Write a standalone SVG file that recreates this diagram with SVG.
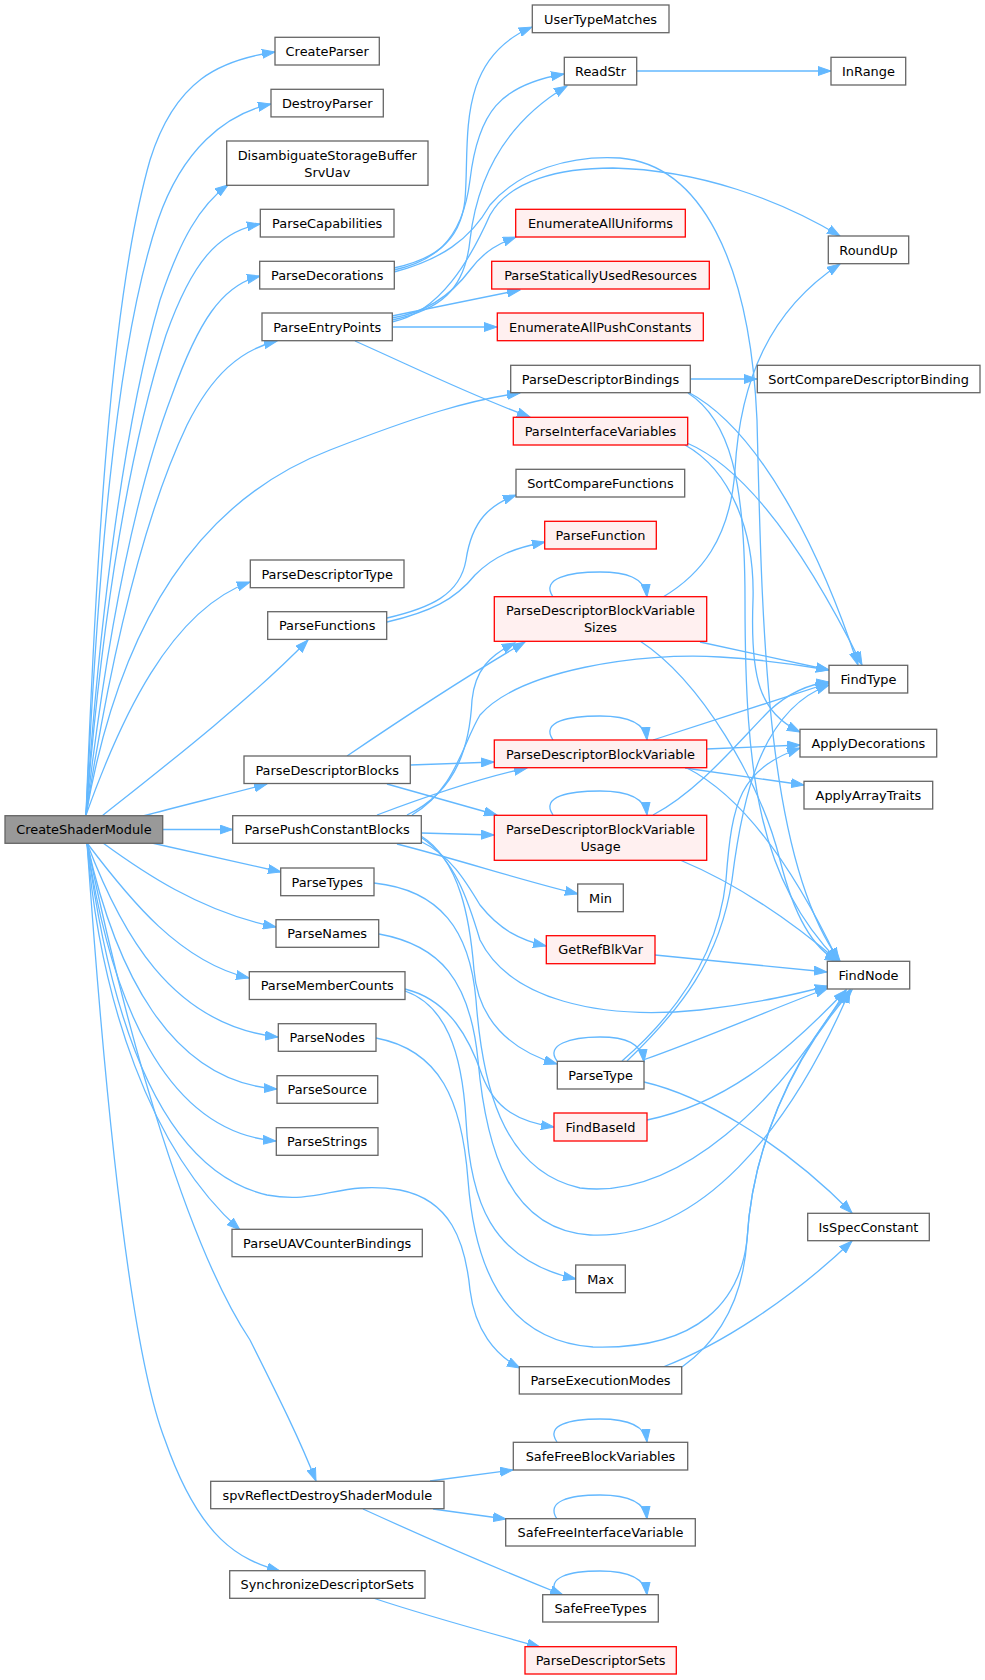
<svg xmlns="http://www.w3.org/2000/svg" width="985" height="1680" viewBox="0 0 985 1680">
<defs>
<style>
.n rect{fill:#ffffff;stroke:#666666;stroke-width:1.3}
.r rect{fill:#fff0f0;stroke:#ff0000;stroke-width:1.3}
.root rect{fill:#999999;stroke:#666666;stroke-width:1.3}
text{font-family:"DejaVu Sans","Liberation Sans",sans-serif;font-size:12.9px;fill:#000000;text-anchor:middle}
.e path{fill:none;stroke:#63b8ff;stroke-width:1.3;marker-end:url(#a)}
</style>
<marker id="a" markerWidth="14" markerHeight="10" refX="13" refY="5" orient="auto" markerUnits="userSpaceOnUse">
<path d="M0,0.5 L13,5 L0,9.5 z" fill="#63b8ff" stroke="#63b8ff" stroke-width="1"/>
</marker>
</defs>
<rect width="985" height="1680" fill="#ffffff"/>
<g class="e" id="connectors">
<path d="M86,815 C96,560 110,300 150,160 C175,80 220,60 275,52"/>
<path d="M86,815 C97,590 114,350 158,220 C182,150 225,114 271,104"/>
<path d="M86,815 C100,610 125,420 160,300 C180,240 200,205 228,185"/>
<path d="M86,815 C101,630 126,460 166,335 C192,262 218,232 260,224"/>
<path d="M86,815 C105,650 132,500 172,395 C198,322 222,285 260,276"/>
<path d="M86,815 C110,660 142,520 187,425 C212,375 240,350 277,341"/>
<path d="M86,815 C120,620 200,500 330,450 C420,415 470,400 520,393"/>
<path d="M86,815 C120,720 170,610 250,582"/>
<path d="M102,816 C160,770 250,700 308,640"/>
<path d="M143,816 C180,806 230,794 267,784"/>
<path d="M163,829.5 L232.7,829.5"/>
<path d="M152,843 L281,872"/>
<path d="M103,843 C140,870 200,912 276,927"/>
<path d="M87,843 C130,900 180,962 249,978"/>
<path d="M87,843 C120,930 170,1025 278,1037"/>
<path d="M87,843 C115,970 170,1082 277,1089"/>
<path d="M87,843 C110,1000 165,1132 276,1141"/>
<path d="M87,843 C100,1000 150,1150 240,1230"/>
<path d="M87,843 C110,1020 160,1170 267,1195 C320,1205 340,1180 400,1190 C450,1200 465,1240 470,1290 C475,1330 495,1355 520,1368"/>
<path d="M87,843 C130,1050 190,1250 250,1340 C280,1400 300,1440 316,1481"/>
<path d="M87,843 C105,1100 130,1350 165,1440 C200,1540 240,1560 280,1571"/>
<path d="M394,268 C430,260 460,245 465,200 C470,140 455,60 532,27"/>
<path d="M394,270 C430,262 462,245 470,180 C478,112 500,85 564,74"/>
<path d="M394,272 C440,260 470,240 490,205 C520,170 570,155 620,158 C700,165 750,260 757,420 C762,620 765,860 840,961"/>
<path d="M392,320 C440,310 465,290 470,240 C478,170 510,120 567,86"/>
<path d="M392,322 C440,312 470,260 490,215 C510,180 560,168 613,168 C700,170 780,200 840,236"/>
<path d="M392,318 C430,312 455,290 470,270 C485,250 500,243 516,237"/>
<path d="M392,316 C440,306 480,298 520,290"/>
<path d="M392,327 L497,327"/>
<path d="M355,341 C420,370 470,395 530,417"/>
<path d="M637,71 L831,71"/>
<path d="M690,379 L757,379"/>
<path d="M688,392 C760,430 820,550 858,665"/>
<path d="M688,393 C730,420 745,480 745,600 C745,780 760,880 838,961"/>
<path d="M687,443 C750,470 810,560 862,665"/>
<path d="M685,445 C730,470 755,530 753,600 C750,680 760,712 800,732"/>
<path d="M387,618 C430,608 460,595 466,560 C472,520 490,505 516,495"/>
<path d="M387,622 C430,612 455,600 475,575 C495,555 515,548 545,542"/>
<path d="M347,756 C400,720 460,680 525,642"/>
<path d="M410,765 L494,762"/>
<path d="M387,784 L497,815"/>
<path d="M407,815 C460,790 470,740 472,700 C475,670 490,655 515,643"/>
<path d="M412,815 C455,790 462,745 480,715 C520,670 640,652 720,657 C770,660 800,665 829,670"/>
<path d="M377,815 C430,795 480,778 527,768"/>
<path d="M421,833 L494,835"/>
<path d="M397,844 C460,860 520,880 578,894"/>
<path d="M420,841 C450,855 465,880 480,905 C500,930 520,940 546,946"/>
<path d="M422,838 C455,860 468,900 480,940 C510,1000 600,1020 700,1010 C760,1003 800,993 828,986"/>
<path d="M421,836 C460,860 470,920 474,970 C478,1020 510,1050 557,1064"/>
<path d="M374,883 C440,890 470,930 476,1000 C482,1080 500,1170 580,1188 C680,1200 780,1100 846,990"/>
<path d="M379,934 C440,945 470,980 478,1060 C486,1150 510,1230 590,1235 C700,1240 790,1130 850,990"/>
<path d="M405,989 C450,1000 470,1040 482,1075 C495,1110 520,1122 554,1127"/>
<path d="M405,991 C445,1005 462,1050 466,1120 C470,1200 490,1260 576,1279"/>
<path d="M376,1038 C440,1050 462,1100 468,1180 C474,1260 500,1340 593,1347 C700,1350 740,1300 747,1240 C752,1150 790,1060 852,990"/>
<path d="M553,597 C540,578 570,572 600,572 C625,572 645,577 647,597"/>
<path d="M663,597 C700,575 730,540 735,470 C740,380 770,310 840,264"/>
<path d="M700,642 L829,670"/>
<path d="M640,641 C700,680 760,780 780,860 C795,920 815,950 838,961"/>
<path d="M553,740 C540,721 570,716 600,716 C625,716 645,721 647,740"/>
<path d="M653,740 L829,683"/>
<path d="M706,749 L800,745"/>
<path d="M685,768 L804,785"/>
<path d="M687,768 C740,795 790,860 838,961"/>
<path d="M553,815 C540,796 570,791 600,791 C625,791 645,796 647,815"/>
<path d="M653,815 C700,790 740,740 770,710 C790,692 810,684 829,682"/>
<path d="M680,860 C740,885 790,920 838,961"/>
<path d="M655,955 L827,972"/>
<path d="M557,1061 C545,1045 570,1037 600,1037 C625,1037 642,1043 644,1062"/>
<path d="M627,1061 C680,1010 720,960 732,880 C742,800 760,710 829,685"/>
<path d="M622,1061 C675,1015 718,955 726,880 C732,800 740,770 800,748"/>
<path d="M643,1060 C700,1040 770,1010 828,988"/>
<path d="M644,1082 C700,1095 780,1140 852,1213"/>
<path d="M647,1120 C720,1105 780,1060 846,990"/>
<path d="M663,1367 C720,1345 790,1300 852,1241"/>
<path d="M682,1367 C720,1340 743,1300 747,1240 C752,1150 790,1060 850,990"/>
<path d="M430,1481 L513,1470"/>
<path d="M433,1509 L506,1519"/>
<path d="M363,1509 C420,1535 500,1570 563,1595"/>
<path d="M557,1442 C545,1425 570,1419 600,1419 C625,1419 645,1424 647,1442"/>
<path d="M557,1519 C545,1501 570,1495 600,1495 C625,1495 645,1500 647,1519"/>
<path d="M557,1595 C545,1577 570,1571 600,1571 C625,1571 645,1576 647,1595"/>
<path d="M373,1598 C430,1617 490,1633 540,1647"/>
</g>
<g id="CreateShaderModule" class="root"><rect x="5" y="815.7" width="157.7" height="27.6"/><text x="83.9" y="834.4">CreateShaderModule</text></g>
<g id="CreateParser" class="n"><rect x="275" y="37.3" width="104.3" height="27.7"/><text x="327.2" y="56">CreateParser</text></g>
<g id="DestroyParser" class="n"><rect x="271" y="89.3" width="112.3" height="27.6"/><text x="327.2" y="108">DestroyParser</text></g>
<g id="DisambiguateStorageBufferSrvUav" class="n"><rect x="226.7" y="141" width="201.3" height="44.3"/><text x="327.3" y="159.5">DisambiguateStorageBuffer</text><text x="327.3" y="176.5">SrvUav</text></g>
<g id="ParseCapabilities" class="n"><rect x="260.3" y="209.3" width="133.7" height="27.7"/><text x="327.2" y="228">ParseCapabilities</text></g>
<g id="ParseDecorations" class="n"><rect x="259.7" y="261.3" width="134.6" height="27.7"/><text x="327.2" y="280">ParseDecorations</text></g>
<g id="ParseEntryPoints" class="n"><rect x="262" y="313" width="130.3" height="27.7"/><text x="327.2" y="331.7">ParseEntryPoints</text></g>
<g id="ParseDescriptorType" class="n"><rect x="250.3" y="560" width="153.7" height="27.7"/><text x="327.2" y="578.7">ParseDescriptorType</text></g>
<g id="ParseFunctions" class="n"><rect x="267.7" y="611.7" width="119" height="27.7"/><text x="327.2" y="630.4">ParseFunctions</text></g>
<g id="ParseDescriptorBlocks" class="n"><rect x="244" y="756" width="166.3" height="27.5"/><text x="327.2" y="774.6">ParseDescriptorBlocks</text></g>
<g id="ParsePushConstantBlocks" class="n"><rect x="232.7" y="815.7" width="188.6" height="27.6"/><text x="327.2" y="834.4">ParsePushConstantBlocks</text></g>
<g id="ParseTypes" class="n"><rect x="280.7" y="868" width="93.3" height="27.7"/><text x="327.2" y="886.7">ParseTypes</text></g>
<g id="ParseNames" class="n"><rect x="276" y="919.7" width="102.7" height="27.6"/><text x="327.2" y="938.4">ParseNames</text></g>
<g id="ParseMemberCounts" class="n"><rect x="249.3" y="971.7" width="155.7" height="27.8"/><text x="327.2" y="990.4">ParseMemberCounts</text></g>
<g id="ParseNodes" class="n"><rect x="278.3" y="1023.7" width="97.7" height="27.6"/><text x="327.2" y="1042.4">ParseNodes</text></g>
<g id="ParseSource" class="n"><rect x="277" y="1075.7" width="100.7" height="27.6"/><text x="327.2" y="1094.4">ParseSource</text></g>
<g id="ParseStrings" class="n"><rect x="276.3" y="1127.7" width="101.7" height="27.6"/><text x="327.2" y="1146.4">ParseStrings</text></g>
<g id="ParseUAVCounterBindings" class="n"><rect x="232" y="1229.3" width="190.3" height="27.4"/><text x="327.2" y="1248">ParseUAVCounterBindings</text></g>
<g id="spvReflectDestroyShaderModule" class="n"><rect x="210.7" y="1481.3" width="233.3" height="27.4"/><text x="327.3" y="1500">spvReflectDestroyShaderModule</text></g>
<g id="SynchronizeDescriptorSets" class="n"><rect x="229.7" y="1570.7" width="195.3" height="27.6"/><text x="327.3" y="1589.4">SynchronizeDescriptorSets</text></g>
<g id="UserTypeMatches" class="n"><rect x="532.3" y="5" width="136.7" height="27.7"/><text x="600.6" y="23.7">UserTypeMatches</text></g>
<g id="ReadStr" class="n"><rect x="564.3" y="57.3" width="72.4" height="27.7"/><text x="600.5" y="76">ReadStr</text></g>
<g id="InRange" class="n"><rect x="831" y="57.3" width="74.7" height="27.7"/><text x="868.4" y="76">InRange</text></g>
<g id="EnumerateAllUniforms" class="r"><rect x="515.7" y="209.3" width="169.6" height="27.7"/><text x="600.5" y="228">EnumerateAllUniforms</text></g>
<g id="RoundUp" class="n"><rect x="828.3" y="236" width="80.4" height="27.7"/><text x="868.5" y="254.7">RoundUp</text></g>
<g id="ParseStaticallyUsedResources" class="r"><rect x="491.7" y="261.3" width="217.6" height="27.7"/><text x="600.5" y="280">ParseStaticallyUsedResources</text></g>
<g id="EnumerateAllPushConstants" class="r"><rect x="497.3" y="313" width="206" height="27.7"/><text x="600.3" y="331.7">EnumerateAllPushConstants</text></g>
<g id="ParseDescriptorBindings" class="n"><rect x="510.7" y="365.3" width="179.6" height="27.4"/><text x="600.5" y="384">ParseDescriptorBindings</text></g>
<g id="SortCompareDescriptorBinding" class="n"><rect x="757.3" y="365.3" width="222.7" height="27.4"/><text x="868.6" y="384">SortCompareDescriptorBinding</text></g>
<g id="ParseInterfaceVariables" class="r"><rect x="513.3" y="417.3" width="174.4" height="27.7"/><text x="600.5" y="436">ParseInterfaceVariables</text></g>
<g id="SortCompareFunctions" class="n"><rect x="516" y="469.3" width="168.7" height="27.7"/><text x="600.4" y="488">SortCompareFunctions</text></g>
<g id="ParseFunction" class="r"><rect x="544.7" y="521.3" width="111.6" height="27.7"/><text x="600.5" y="540">ParseFunction</text></g>
<g id="ParseDescriptorBlockVariableSizes" class="r"><rect x="494.3" y="596.7" width="212.4" height="44.6"/><text x="600.5" y="615.2">ParseDescriptorBlockVariable</text><text x="600.5" y="632.3">Sizes</text></g>
<g id="FindType" class="n"><rect x="829" y="665.3" width="78.7" height="27.7"/><text x="868.4" y="684">FindType</text></g>
<g id="ApplyDecorations" class="n"><rect x="800" y="729.3" width="136.7" height="27.7"/><text x="868.4" y="748">ApplyDecorations</text></g>
<g id="ParseDescriptorBlockVariable" class="r"><rect x="494.3" y="740" width="212.4" height="27.7"/><text x="600.5" y="758.7">ParseDescriptorBlockVariable</text></g>
<g id="ApplyArrayTraits" class="n"><rect x="804" y="781.3" width="128.7" height="27.7"/><text x="868.4" y="800">ApplyArrayTraits</text></g>
<g id="ParseDescriptorBlockVariableUsage" class="r"><rect x="494.3" y="815.3" width="212.4" height="45"/><text x="600.5" y="833.8">ParseDescriptorBlockVariable</text><text x="600.5" y="850.9">Usage</text></g>
<g id="Min" class="n"><rect x="577.7" y="884" width="45.6" height="27.7"/><text x="600.5" y="902.7">Min</text></g>
<g id="GetRefBlkVar" class="r"><rect x="546.3" y="935.7" width="108.7" height="28"/><text x="600.6" y="954.4">GetRefBlkVar</text></g>
<g id="FindNode" class="n"><rect x="827.3" y="961.3" width="82.4" height="27.7"/><text x="868.5" y="980">FindNode</text></g>
<g id="ParseType" class="n"><rect x="557.3" y="1061.3" width="86.7" height="27.7"/><text x="600.6" y="1080">ParseType</text></g>
<g id="FindBaseId" class="r"><rect x="554" y="1113" width="93" height="28"/><text x="600.5" y="1131.7">FindBaseId</text></g>
<g id="IsSpecConstant" class="n"><rect x="807.7" y="1213.3" width="121.6" height="27.4"/><text x="868.5" y="1232">IsSpecConstant</text></g>
<g id="Max" class="n"><rect x="575.7" y="1265" width="49.6" height="27.7"/><text x="600.5" y="1283.7">Max</text></g>
<g id="ParseExecutionModes" class="n"><rect x="519.3" y="1366.7" width="162.4" height="27.3"/><text x="600.5" y="1385.4">ParseExecutionModes</text></g>
<g id="SafeFreeBlockVariables" class="n"><rect x="513.3" y="1442.3" width="174.4" height="27.7"/><text x="600.5" y="1461">SafeFreeBlockVariables</text></g>
<g id="SafeFreeInterfaceVariable" class="n"><rect x="505.7" y="1518.7" width="189.6" height="27.3"/><text x="600.5" y="1537.4">SafeFreeInterfaceVariable</text></g>
<g id="SafeFreeTypes" class="n"><rect x="542.7" y="1594.7" width="115.6" height="27.3"/><text x="600.5" y="1613.4">SafeFreeTypes</text></g>
<g id="ParseDescriptorSets" class="r"><rect x="525" y="1646.7" width="151.3" height="27.3"/><text x="600.6" y="1665.4">ParseDescriptorSets</text></g>
</svg>
